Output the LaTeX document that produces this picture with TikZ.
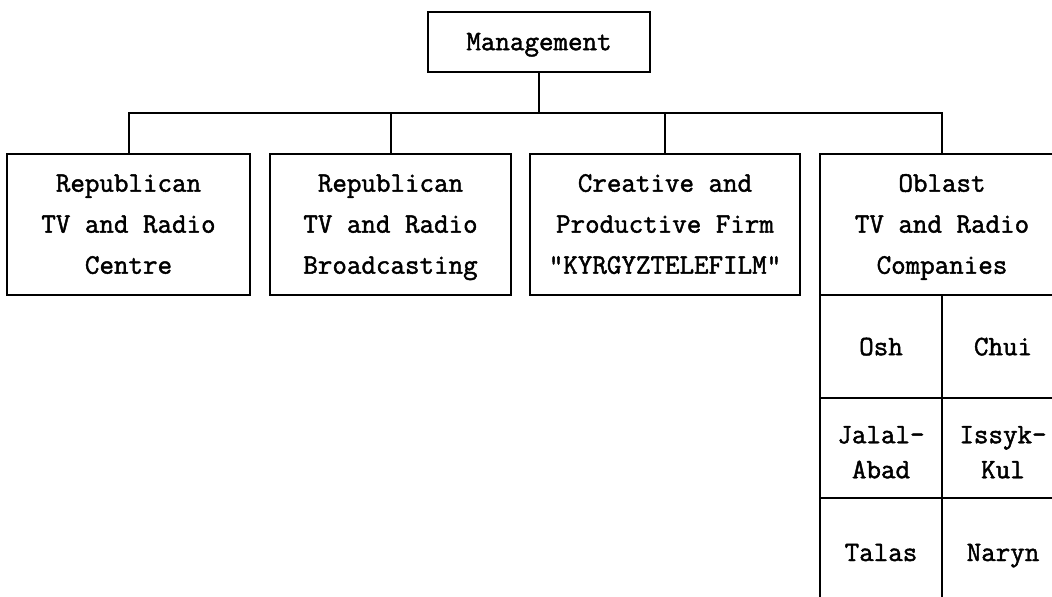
\documentclass[tikz,border=0pt]{standalone}
\usepackage{fontspec}
\newfontfamily\twfont{Latin Modern Mono}[FakeBold=1.6]
\newcommand{\tallstrut}{\rule{0pt}{18pt}}
\begin{document}
\begin{tikzpicture}[x=0.5pt,y=-0.5pt,
  box/.style={draw,line width=1pt,inner sep=0pt,align=center,
    font=\twfont\fontsize{14.1}{20.5}\selectfont},
  cell/.style={draw,line width=1pt,inner sep=0pt,align=center,
    minimum width=61pt,font=\twfont\fontsize{14.1}{17.5}\selectfont},
  link/.style={line width=1pt}]
\useasboundingbox (0,0) rectangle (1052,597);
\clip (0,0) rectangle (1052,597);
\node[box,minimum width=111pt,minimum height=30pt] (mgmt) at (539,42) {Management\strut};
\node[box,minimum width=121.5pt,minimum height=70.5pt] (b1) at (128.5,224.5) {Republican\strut\\TV and Radio\\Centre\strut};
\node[box,minimum width=120.5pt,minimum height=70.5pt] (b2) at (390.5,224.5) {Republican\strut\\TV and Radio\\Broadcasting\strut};
\node[box,minimum width=135pt,minimum height=70.5pt] (b3) at (665,224.5) {Creative and\strut\\Productive Firm\\"KYRGYZTELEFILM"\strut};
\node[box,minimum width=122pt,minimum height=70.5pt] (b4) at (942,224.5) {Oblast\strut\\TV and Radio\\Companies\strut};
\node[cell,minimum height=51.5pt] (osh) at (881,346.5) {\rule{0pt}{14pt}Osh\strut};
\node[cell,minimum height=51.5pt] (chui) at (1003,346.5) {\rule{0pt}{14pt}Chui\strut};
\node[cell,minimum height=50pt] (jalal) at (881,448) {\tallstrut Jalal-\strut\\Abad\strut};
\node[cell,minimum height=50pt] (issyk) at (1003,448) {\tallstrut Issyk-\strut\\Kul\strut};
\node[cell,minimum height=56pt] (talas) at (881,554) {Talas\strut};
\node[cell,minimum height=56pt] (naryn) at (1003,554) {Naryn\strut};
\coordinate (bar) at (539,113);
\draw[link] (mgmt.south) -- (mgmt.south |- bar);
\draw[link] (b1.north) |- (b4.north |- bar) -- (b4.north);
\draw[link] (b2.north) -- (b2.north |- bar);
\draw[link] (b3.north) -- (b3.north |- bar);
\end{tikzpicture}
\end{document}
